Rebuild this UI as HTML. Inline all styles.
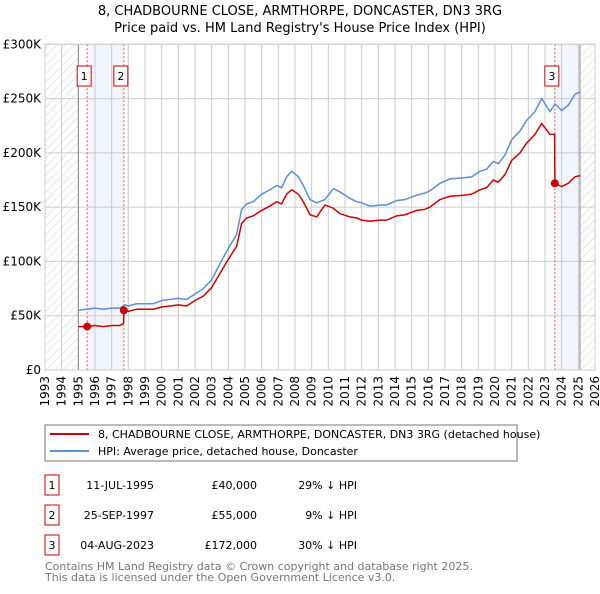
<!DOCTYPE html>
<html><head><meta charset="utf-8"><style>
body{margin:0;background:#fff;font-family:"DejaVu Sans","Liberation Sans",sans-serif;}
svg text{font-family:"DejaVu Sans","Liberation Sans",sans-serif;}
</style></head><body>
<svg id="c" width="600" height="590" xmlns="http://www.w3.org/2000/svg">
<defs><pattern id="hatch" width="6" height="6" patternUnits="userSpaceOnUse" patternTransform="rotate(45)"><line x1="0" y1="0" x2="0" y2="6" stroke="#d4d4d4" stroke-width="1"/></pattern></defs>
<text x="300" y="15" text-anchor="middle" font-size="13" fill="#000">8, CHADBOURNE CLOSE, ARMTHORPE, DONCASTER, DN3 3RG</text>
<text x="300" y="32" text-anchor="middle" font-size="13" fill="#000">Price paid vs. HM Land Registry's House Price Index (HPI)</text>
<g id="plot"></g>
<rect x="45" y="425" width="472" height="36" fill="#fff" stroke="#777"/>
<line x1="50" y1="434" x2="89" y2="434" stroke="#cc0000" stroke-width="2"/>
<text x="98" y="438" font-size="11">8, CHADBOURNE CLOSE, ARMTHORPE, DONCASTER, DN3 3RG (detached house)</text>
<line x1="50" y1="451" x2="89" y2="451" stroke="#5b8fd6" stroke-width="2"/>
<text x="98" y="455" font-size="11">HPI: Average price, detached house, Doncaster</text>
<g font-size="11">
<rect x="45" y="475" width="14" height="20" fill="#fff" stroke="#cc0000"/><text x="52" y="489" text-anchor="middle">1</text>
<text x="154" y="489" text-anchor="end">11-JUL-1995</text>
<text x="257" y="489" text-anchor="end">£40,000</text>
<text x="357" y="489" text-anchor="end">29% ↓ HPI</text>
<rect x="45" y="505" width="14" height="20" fill="#fff" stroke="#cc0000"/><text x="52" y="519" text-anchor="middle">2</text>
<text x="154" y="519" text-anchor="end">25-SEP-1997</text>
<text x="257" y="519" text-anchor="end">£55,000</text>
<text x="357" y="519" text-anchor="end">9% ↓ HPI</text>
<rect x="45" y="535" width="14" height="20" fill="#fff" stroke="#cc0000"/><text x="52" y="549" text-anchor="middle">3</text>
<text x="154" y="549" text-anchor="end">04-AUG-2023</text>
<text x="257" y="549" text-anchor="end">£172,000</text>
<text x="357" y="549" text-anchor="end">30% ↓ HPI</text>
</g>
<text x="45" y="570" font-size="11" fill="#777">Contains HM Land Registry data © Crown copyright and database right 2025.</text>
<text x="45" y="581" font-size="11" fill="#777">This data is licensed under the Open Government Licence v3.0.</text>
</svg>
<script>
const yearTicks=[1993,1994,1995,1996,1997,1998,1999,2000,2001,2002,2003,2004,2005,2006,2007,2008,2009,2010,2011,2012,2013,2014,2015,2016,2017,2018,2019,2020,2021,2022,2023,2024,2025,2026];
const valueTicks=[0,50,100,150,200,250,300];
const valueTickLabels=["£0","£50K","£100K","£150K","£200K","£250K","£300K"];
const hpiYears=[1995.0,1995.5,1996.0,1996.5,1997.0,1997.5,1997.8,1998.0,1998.5,1999.0,1999.5,2000.0,2000.5,2001.0,2001.5,2002.0,2002.5,2003.0,2003.5,2004.0,2004.5,2004.8,2005.1,2005.5,2006.0,2006.5,2006.9,2007.2,2007.5,2007.8,2008.2,2008.5,2008.9,2009.3,2009.8,2010.3,2010.7,2011.3,2011.7,2012.0,2012.5,2013.1,2013.5,2014.1,2014.6,2015.3,2015.8,2016.1,2016.7,2017.3,2018.1,2018.6,2019.1,2019.5,2019.9,2020.2,2020.6,2021.0,2021.5,2021.9,2022.4,2022.8,2023.3,2023.6,2024.0,2024.4,2024.8,2025.1];
const hpiValues=[55,56,57,56,57,57,60,59,61,61,61,64,65,66,65,70,75,83,98,112,125,148,153,155,162,166,170,168,178,183,178,170,157,154,157,167,164,158,155,154,151,152,152,156,157,161,163,165,172,176,177,178,183,185,192,190,198,212,220,230,238,250,238,245,239,244,254,256];
const priceYears=[1995.0,1995.53,1996.0,1996.5,1997.0,1997.5,1997.72,1997.73,1998.0,1998.5,1999.0,1999.5,2000.0,2000.5,2001.0,2001.5,2002.0,2002.5,2003.0,2003.5,2004.0,2004.5,2004.8,2005.1,2005.5,2006.0,2006.5,2006.9,2007.2,2007.5,2007.8,2008.2,2008.5,2008.9,2009.3,2009.8,2010.3,2010.7,2011.3,2011.7,2012.0,2012.5,2013.1,2013.5,2014.1,2014.6,2015.3,2015.8,2016.1,2016.7,2017.3,2018.1,2018.6,2019.1,2019.5,2019.9,2020.2,2020.6,2021.0,2021.5,2021.9,2022.4,2022.8,2023.3,2023.58,2023.59,2024.0,2024.4,2024.8,2025.1];
const priceValues=[40,40,41,40,41,41,43,55,54,56,56,56,58,59,60,59,64,68,76,89,102,114,135,140,142,147,151,155,153,162,166,162,155,143,141,152,149,144,141,140,138,137,138,138,142,143,147,148,150,157,160,161,162,166,168,175,173,180,193,200,209,217,227,217,217,172,169,172,178,179];
const saleYears=[1995.53,1997.73,2023.59];
const saleValues=[40,55,172];
const saleLabels=["1","2","3"];

const X0=45,X1=595,Y0=370,Y1=44.3;
const xs=y=>X0+(y-1993)/(2026-1993)*(X1-X0);
const ys=v=>Y0-v/300*(Y0-Y1);
const NS="http://www.w3.org/2000/svg";
const g=document.getElementById('plot');
function mk(t,a){const e=document.createElementNS(NS,t);for(const k in a)e.setAttribute(k,a[k]);g.appendChild(e);return e;}

let r=mk('rect',{x:xs(1993),y:Y1,width:xs(1995)-xs(1993),height:Y0-Y1,fill:'url(#hatch)'});


r=mk('rect',{x:xs(2025.1),y:Y1,width:X1-xs(2025.1),height:Y0-Y1,fill:'url(#hatch)'});


r=mk('rect',{x:xs(saleYears[0]),y:Y1,width:xs(saleYears[1])-xs(saleYears[0]),height:Y0-Y1,fill:'#eef3fc',opacity:0.8});


r=mk('rect',{x:xs(saleYears[2]),y:Y1,width:xs(2025.1)-xs(saleYears[2]),height:Y0-Y1,fill:'#eef3fc',opacity:0.8});



yearTicks.forEach(y=>{
 const l=mk('line',{x1:xs(y),x2:xs(y),y1:Y1,y2:Y0,stroke:'#ccc','stroke-width':1});
 
 
 const t=mk('text',{x:0,y:0,'font-size':12,'text-anchor':'end',transform:`translate(${xs(y)+4},${Y0+6}) rotate(-90)`});
 t.textContent=y;
 
 
});
valueTicks.forEach((v,i)=>{
 const l=mk('line',{x1:X0,x2:X1,y1:ys(v),y2:ys(v),stroke:'#ccc','stroke-width':1});
 
 
 const t=mk('text',{x:X0-4,y:ys(v)+4,'font-size':12,'text-anchor':'end'});
 t.textContent=valueTickLabels[i];
 
 
});
[1995,2025.1].forEach(y=>{
 const l=mk('line',{x1:xs(y),x2:xs(y),y1:Y1,y2:Y0,stroke:'#888','stroke-width':1});
 
 
});
saleYears.forEach((y,i)=>{
 const l=mk('line',{x1:xs(y),x2:xs(y),y1:Y1,y2:Y0,stroke:'#e55','stroke-width':1,'stroke-dasharray':'2,2'});
 
 
});
let p=mk('polyline',{points:hpiYears.map((y,i)=>xs(y)+','+ys(hpiValues[i])).join(' '),fill:'none',stroke:'#5b8fd6','stroke-width':1.5});


p=mk('polyline',{points:priceYears.map((y,i)=>xs(y)+','+ys(priceValues[i])).join(' '),fill:'none',stroke:'#cc0000','stroke-width':1.5});


saleYears.forEach((y,i)=>{
 const c=mk('circle',{cx:xs(y),cy:ys(saleValues[i]),r:4,fill:'#cc0000'});
 
 
 const b=mk('rect',{x:xs(y)-10,y:66,width:14,height:20,fill:'#fff',stroke:'#cc0000'});
 
 
 const t=mk('text',{x:xs(y)-3,y:80,'font-size':11,'text-anchor':'middle'});
 t.textContent=saleLabels[i];
 
 
});
const f=mk('rect',{x:X0,y:Y1,width:X1-X0,height:Y0-Y1,fill:'none',stroke:'#ccc'});


</script>
</body></html>
